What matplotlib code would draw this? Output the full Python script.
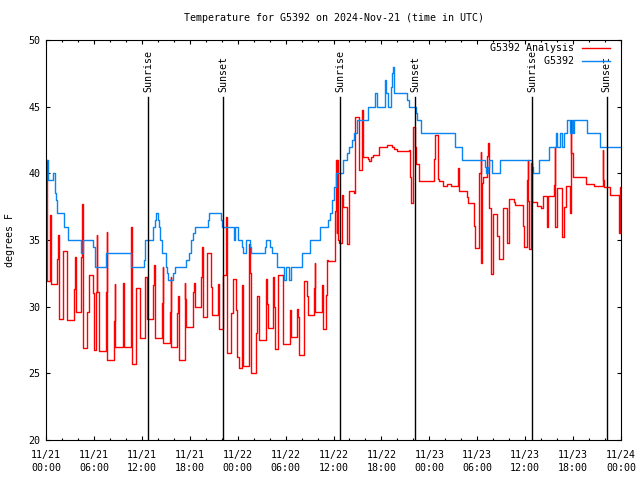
import numpy as np
import matplotlib
matplotlib.use("Agg")
import matplotlib.pyplot as plt
import matplotlib.dates as mdates

# hours after 2024-11-21 00:00 UTC, step values in deg F
red_hours = [0.0, 0.08, 0.5, 0.6, 1.42, 1.55, 1.67, 2.17, 2.59, 3.5, 3.57, 3.71,
             4.42, 4.52, 4.67, 5.17, 5.34, 5.84, 6.0, 6.26, 6.36, 6.43, 6.68,
             7.51, 7.6, 7.68, 8.51, 8.6, 8.68, 9.6, 9.68, 9.77, 10.6, 10.68, 10.77,
             11.27, 11.77, 12.36, 12.45, 12.6, 12.69, 13.44, 13.52, 13.61, 14.53, 14.6,
             14.69, 15.53, 15.6, 15.69, 16.44, 16.55, 16.69, 17.36, 17.45, 17.53,
             18.45, 18.55, 18.7, 19.45, 19.55, 19.7, 20.12, 20.62, 20.79, 21.54, 21.7,
             22.2, 22.54, 22.7, 23.12, 23.37, 23.79, 23.96, 24.13, 24.54, 24.71,
             25.38, 25.5, 25.63, 25.72, 26.3, 26.38, 26.63, 26.71, 27.55, 27.7, 27.8,
             28.47, 28.6, 28.71, 29.05, 29.72, 30.55, 30.72, 31.47, 31.6, 31.72,
             32.3, 32.64, 32.8, 33.56, 33.64, 33.72, 34.56, 34.72, 35.06, 35.2, 35.31,
             36.2, 36.31, 36.4, 36.45, 36.56, 36.73, 37.06, 37.15, 37.73, 37.98,
             38.57, 38.65, 39.23, 39.57, 39.65, 40.32, 40.5, 40.66, 40.99, 41.66,
             42.66, 43.33, 43.58, 43.91, 45.42, 45.58, 45.67, 45.92, 46.25, 46.35,
             46.5, 46.75, 48.58, 48.75, 49.09, 49.25, 49.67, 50.17, 50.76, 51.59,
             51.76, 52.67, 52.84, 53.59, 53.76, 54.18, 54.43, 54.5, 54.6, 54.76,
             55.18, 55.35, 55.45, 55.76, 56.01, 56.43, 56.68, 57.26, 57.69, 57.94,
             58.6, 58.77, 59.69, 59.86, 60.19, 60.3, 60.36, 60.52, 60.69, 60.8,
             61.44, 62.02, 62.27, 62.77, 62.85, 63.61, 63.7, 63.78, 63.95, 64.61,
             64.86, 65.11, 65.61, 65.7, 65.78, 65.95, 67.62, 68.62, 69.71, 69.8,
             69.87, 70.62, 71.71, 71.88, 72.0]
red_temp = [41.0, 31.9, 36.9, 31.7, 33.6, 35.4, 29.1, 34.2, 29.0, 31.3, 33.7, 29.6,
            33.7, 37.7, 26.9, 29.6, 32.4, 31.0, 26.75, 31.1, 35.4, 31.1, 26.7,
            31.1, 35.6, 26.0, 28.9, 31.7, 27.0, 28.5, 31.8, 27.0, 31.4, 36.0, 25.7,
            31.4, 27.65, 30.0, 32.2, 30.6, 29.1, 31.6, 33.1, 27.65, 30.3, 33.0,
            27.3, 29.6, 32.2, 27.0, 29.5, 30.8, 26.0, 31.8, 30.6, 28.5,
            31.1, 31.8, 30.0, 32.2, 34.5, 29.2, 34.0, 31.5, 29.4, 31.7, 28.3,
            32.4, 36.7, 26.5, 29.5, 32.1, 29.75, 26.2, 25.4, 31.6, 25.55,
            34.7, 32.5, 28.0, 25.05, 28.0, 30.8, 29.3, 27.5, 32.1, 30.2, 28.4,
            32.2, 30.0, 26.8, 32.4, 27.2, 29.75, 27.7, 29.8, 29.2, 26.4,
            31.9, 30.8, 29.4, 31.4, 33.3, 29.6, 31.6, 28.3, 30.9, 33.5, 33.4,
            37.2, 41.0, 35.5, 41.0, 35.0, 34.8, 38.4, 37.5, 34.7, 38.7,
            38.5, 44.2, 40.25, 44.75, 41.2, 41.1, 40.9, 41.2, 41.4, 42.0,
            42.1, 42.0, 41.8, 41.7, 41.75, 39.7, 37.8, 43.5, 42.0, 40.7,
            40.7, 39.4, 41.1, 42.9, 39.6, 39.4, 39.05, 39.2, 39.05, 40.4,
            38.7, 38.2, 37.8, 36.05, 34.4, 40.0, 41.6, 33.3, 39.3, 39.7,
            41.3, 42.3, 37.4, 32.45, 36.95, 35.3, 33.6, 37.4, 34.8, 38.1,
            37.85, 37.6, 36.05, 34.5, 39.5, 41.0, 37.9, 34.3, 40.8, 37.85,
            37.55, 37.4, 38.3, 36.0, 38.3, 39.1, 42.0, 36.0, 38.9, 35.2,
            37.5, 39.05, 37.0, 44.0, 41.5, 39.7, 39.2, 39.05, 41.75, 39.5,
            39.0, 38.4, 35.5, 39.0, 39.0]

blue_hours = [0.0, 0.25, 0.9, 1.1, 1.25, 1.4, 2.2, 2.7, 4.42, 4.67, 5.85, 6.1,
              7.5, 10.7, 12.3, 12.45, 13.4, 13.6, 13.8, 14.0, 14.1, 14.3, 14.5,
              15.0, 15.15, 15.3, 15.9, 16.1, 17.5, 17.9, 18.2, 18.45, 18.7, 20.3,
              20.45, 21.95, 22.1, 23.5, 23.7, 24.0, 24.5, 24.7, 25.05, 25.5, 25.7,
              27.4, 27.55, 28.05, 28.3, 28.9, 29.85, 30.1, 30.4, 30.65, 32.1, 33.05,
              34.3, 35.3, 35.6, 35.8, 36.0, 36.3, 37.2, 37.7, 38.0, 38.3, 38.6,
              39.0, 40.3, 41.2, 41.4, 42.4, 42.6, 42.8, 43.25, 43.35, 43.45, 43.55,
              45.25, 45.4, 46.3, 46.5, 46.9, 51.25, 52.1, 55.0, 55.1, 55.3, 55.5,
              55.8, 55.9, 56.8, 60.85, 61.0, 61.7, 62.95, 63.86, 64.0, 64.36, 64.61,
              64.86, 65.28, 65.65, 65.86, 65.95, 66.15, 67.8, 69.4, 72.0]
blue_temp = [41.0, 39.5, 40.0, 38.5, 38.0, 37.0, 36.0, 35.0, 34.0, 35.0, 34.5, 33.0,
             34.0, 33.0, 33.5, 35.0, 36.0, 36.5, 37.0, 36.5, 36.0, 35.0, 34.0,
             33.0, 32.5, 32.0, 32.5, 33.0, 33.5, 34.0, 35.0, 35.5, 36.0, 36.5,
             37.0, 36.5, 36.0, 35.0, 36.0, 35.0, 34.5, 34.0, 35.0, 34.5, 34.0,
             34.5, 35.0, 34.5, 34.0, 33.0, 32.0, 33.0, 32.0, 33.0, 34.0, 35.0,
             36.0, 36.5, 37.0, 38.0, 39.0, 40.0, 41.0, 41.5, 42.0, 42.5, 43.0,
             44.0, 45.0, 46.0, 45.0, 47.0, 46.0, 45.0, 46.5, 47.5, 48.0, 46.0,
             45.5, 45.0, 44.5, 44.0, 43.0, 42.0, 41.0, 40.5, 40.0, 40.5, 41.0,
             40.5, 40.0, 41.0, 40.5, 40.0, 41.0, 42.0, 43.0, 42.0, 43.0, 42.0,
             43.0, 44.0, 43.0, 44.0, 43.0, 44.0, 43.0, 42.0, 42.0]

sun_labels = ["Sunrise", "Sunset", "Sunrise", "Sunset", "Sunrise", "Sunset"]
sun_hours = [12.8, 22.2, 36.85, 46.2, 60.9, 70.2]

start = np.datetime64("2024-11-21T00:00")


def to_time(hours):
    return start + (np.array(hours) * 3600).astype("timedelta64[s]")


plt.rcParams["font.family"] = "DejaVu Sans Mono"
plt.rcParams["font.size"] = 7.2

fig = plt.figure(figsize=(6.4, 4.8), dpi=100)
ax = fig.add_axes([46 / 640, 40 / 480, 575 / 640, 400 / 480])

ax.plot(to_time(red_hours), red_temp, drawstyle="steps-post", color="#ff0000",
        lw=1.0, label="G5392 Analysis")
ax.plot(to_time(blue_hours), blue_temp, drawstyle="steps-post", color="#0a84f0",
        lw=1.0, label="         G5392")

for name, h in zip(sun_labels, sun_hours):
    t = to_time([h])[0]
    ax.axvline(t, ymin=0, ymax=0.8575, color="black", lw=1.0)
    ax.text(t, 0.87, name, rotation=90, ha="center", va="bottom",
            transform=ax.get_xaxis_transform())

ax.set_xlim(to_time([0])[0], to_time([72])[0])
ax.set_ylim(20, 50)
ax.set_yticks(np.arange(20, 51, 5))

ax.xaxis.set_major_locator(mdates.HourLocator(byhour=range(0, 24, 6)))
ax.xaxis.set_minor_locator(mdates.HourLocator(byhour=range(0, 24, 2)))
ax.xaxis.set_major_formatter(mdates.DateFormatter("%m/%d\n%H:%M"))
for lab in ax.get_xticklabels():
    lab.set_linespacing(1.45)

ax.tick_params(which="both", direction="in", top=True, right=True, width=0.8)
ax.tick_params(which="major", length=3.0)
ax.tick_params(which="minor", length=1.6)
ax.tick_params(axis="x", which="major", pad=7)
ax.tick_params(axis="y", pad=4)
for s in ax.spines.values():
    s.set_linewidth(0.8)

ax.set_ylabel("degrees F")
ax.yaxis.set_label_coords(-0.054, 0.5)
ax.set_title("Temperature for G5392 on 2024-Nov-21 (time in UTC)", fontsize=7.2, pad=14)

ax.legend(loc="upper right", bbox_to_anchor=(0.981, 0.992), frameon=False,
          markerfirst=False, borderpad=0, borderaxespad=0, handlelength=2.8,
          handletextpad=0.8, labelspacing=0.3)

fig.savefig("out.png", dpi=100)
